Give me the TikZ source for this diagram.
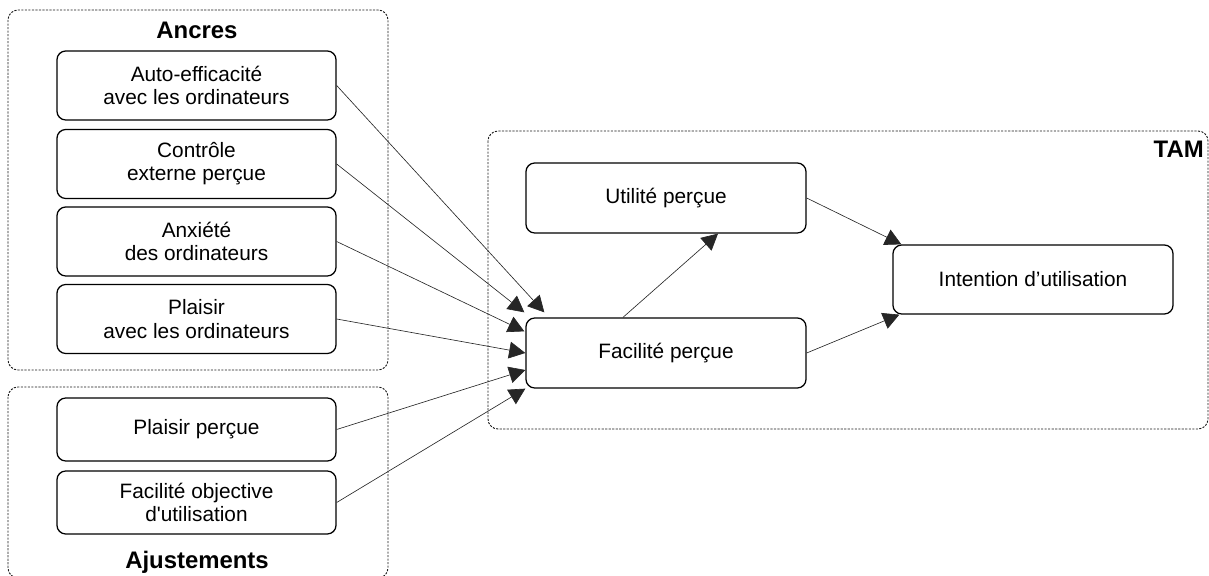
\documentclass[tikz,border=0pt]{standalone}
\usepackage{fontspec}
\setmainfont{Liberation Sans}[Ligatures=TeXOff]
\usetikzlibrary{arrows.meta,calc}
\newcommand{\bw}{6.975cm}
\newcommand{\bh}{1.725cm}
\newcommand{\sh}{1.575cm}
\newcommand{\groupbox}[4]{\draw[groupline] (#1,#2) rectangle (#3,#4);}
\newcommand{\link}[2]{\draw[link] (#1) -- (#2);}
\tikzset{
  factor/.style={draw=black, line width=0.9pt, rounded corners=0.22cm, align=center, inner sep=0pt, minimum width=\bw},
  groupline/.style={draw=black!90, line width=0.65pt, dash pattern=on 1.5pt off 1pt, rounded corners=0.25cm},
  grouptitle/.style={font=\fontsize{17}{19}\selectfont\bfseries, inner sep=0pt},
  link/.style={draw=black!85, line width=0.45pt, -{Triangle[length=11.5pt,width=12pt]}}
}
\begin{document}
\begin{tikzpicture}[x=0.025cm, y=-0.025cm, font=\fontsize{14.8}{16.5}\selectfont]
        \useasboundingbox (0,0) rectangle (1209,576);
        % groups
        \groupbox{8}{10}{388}{370};
        \groupbox{8}{387}{388}{578};
        \groupbox{488}{131}{1208}{429};
        \node[grouptitle] (ancres) at (197,30) {Ancres};
        \node[grouptitle] (ajust) at (197,562) {Ajustements};
        \node[grouptitle, anchor=east] (tam) at (1204,149) {TAM};
        % anchors and adjustments
        \node[factor, minimum height=\bh] (a1) at (196.5,85.5) {Auto-efficacité\\avec les ordinateurs};
        \node[factor, minimum height=\bh] (a2) at (196.5,164) {Contrôle\\externe perçue};
        \node[factor, minimum height=\bh] (a3) at (196.5,241.5) {Anxiété\\des ordinateurs};
        \node[factor, minimum height=\bh] (a4) at (196.5,319) {Plaisir\\avec les ordinateurs};
        \node[factor, minimum height=\sh] (j1) at (196.5,429.5) {Plaisir perçue};
        \node[factor, minimum height=\sh] (j2) at (196.5,502.5) {Facilité objective\\d'utilisation};
        % TAM
        \node[factor, minimum width=7cm, minimum height=1.75cm] (up) at (666,198) {Utilité perçue};
        \node[factor, minimum width=7cm, minimum height=1.75cm] (fp) at (666,353) {Facilité perçue};
        \node[factor, minimum width=7cm, minimum height=1.725cm] (int) at (1033,279.5) {Intention d’utilisation};
        % links
        \link{a1.east}{$(fp.north west)+(19,-5)$};
        \link{a2.east}{$(fp.north west)+(-1,-5)$};
        \link{a3.east}{$(fp.north west)+(-1,14)$};
        \link{a4.east}{fp.west};
        \link{j1.east}{$(fp.west)+(0,17)$};
        \link{j2.east}{fp.south west};
        \link{$(fp.north)+(-43,0)$}{$(up.south)+(52,0)$};
        \link{up.east}{$(int.north west)+(9,0)$};
        \link{fp.east}{$(int.south west)+(7,0)$};
\end{tikzpicture}
\end{document}
